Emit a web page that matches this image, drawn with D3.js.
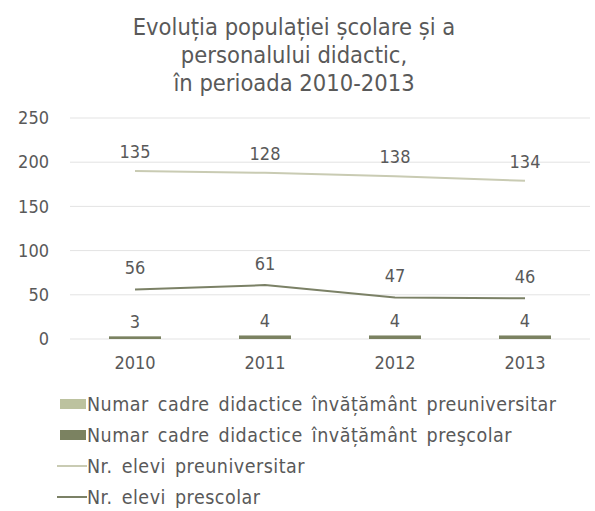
<!DOCTYPE html>
<html>
<head>
<meta charset="utf-8">
<script src="https://cdn.jsdelivr.net/npm/d3@7"></script>
<style>
  body { margin: 0; background: #fff; }
  svg text { font-family: "DejaVu Sans Condensed", "DejaVu Sans", sans-serif; fill: #595959; }
</style>
</head>
<body>
<div id="chart"></div>
<script>
// Date
const ani = ["2010", "2011", "2012", "2013"];
const cadrePrescolar = [3, 4, 4, 4];
const cadrePreuniv = [135, 128, 138, 134];   // etichete afisate deasupra liniei
const eleviPreuniv = [190, 188, 184, 179];
const eleviPrescolar = [56, 61, 47, 46];
const yTicks = [0, 50, 100, 150, 200, 250];

const culori = {
    barLight: "#bcc29f",
    barDark: "#7b8261",
    lineLight: "#c9cbb3",
    lineDark: "#7b8166"
};

const width = 595, height = 511;
const margin = { top: 118, right: 5, bottom: 172, left: 70 };
const fs = 18;

const svg = d3.select("#chart").append("svg")
    .attr("width", width)
    .attr("height", height);

// Titlu
const title = ["Evoluția populației școlare și a", "personalului didactic,", "în perioada 2010-2013"];
svg.append("text")
    .attr("text-anchor", "middle")
    .attr("font-size", 23.5)
    .selectAll("tspan")
    .data(title)
    .join("tspan")
    .attr("x", 294)
    .attr("y", (d, i) => 35 + i * 28)
    .text(d => d);

const x = d3.scaleBand()
    .domain(ani)
    .range([margin.left, width - margin.right]);

const y = d3.scaleLinear()
    .domain([0, 250])
    .range([height - margin.bottom, margin.top]);

// Grila
svg.append("g")
    .selectAll("line")
    .data(yTicks)
    .join("line")
    .attr("x1", margin.left)
    .attr("x2", width - margin.right)
    .attr("y1", d => y(d))
    .attr("y2", d => y(d))
    .attr("stroke", "#e3e3e3")
    .attr("stroke-width", 1);

// Axa Y
const yAxis = svg.append("g")
    .attr("transform", `translate(${margin.left - 21},0)`)
    .call(d3.axisLeft(y).tickValues(yTicks).tickSize(0).tickPadding(0));
yAxis.select(".domain").remove();
yAxis.selectAll("text")
    .attr("font-size", fs)
    .attr("font-family", "DejaVu Sans Condensed, DejaVu Sans, sans-serif")
    .attr("fill", "#595959");

// Axa X
const xAxis = svg.append("g")
    .attr("transform", `translate(0,${y(0)})`)
    .call(d3.axisBottom(x).tickSize(0).tickPadding(17));
xAxis.select(".domain").remove();
xAxis.selectAll("text")
    .attr("font-size", fs)
    .attr("font-family", "DejaVu Sans Condensed, DejaVu Sans, sans-serif")
    .attr("fill", "#595959");

const barW = 52;

// Bare cadre prescolar
svg.append("g")
    .selectAll("rect")
    .data(cadrePrescolar)
    .join("rect")
    .attr("x", (d, i) => x(ani[i]) + x.bandwidth() / 2 - barW / 2)
    .attr("width", barW)
    .attr("y", d => y(d))
    .attr("height", d => y(0) - y(d))
    .attr("fill", culori.barDark);

svg.append("g")
    .selectAll("text")
    .data(cadrePrescolar)
    .join("text")
    .attr("x", (d, i) => x(ani[i]) + x.bandwidth() / 2)
    .attr("y", d => y(d) - 8)
    .attr("text-anchor", "middle")
    .attr("font-size", fs)
    .text(d => d);

// Linii
const cx = (d, i) => x(ani[i]) + x.bandwidth() / 2;
const line = d3.line().x(cx).y(d => y(d));

svg.append("path")
    .datum(eleviPreuniv)
    .attr("d", line)
    .attr("fill", "none")
    .attr("stroke", culori.lineLight)
    .attr("stroke-width", 2);

svg.append("path")
    .datum(eleviPrescolar)
    .attr("d", line)
    .attr("fill", "none")
    .attr("stroke", culori.lineDark)
    .attr("stroke-width", 2);

svg.append("g")
    .selectAll("text")
    .data(cadrePreuniv)
    .join("text")
    .attr("x", cx)
    .attr("y", (d, i) => y(eleviPreuniv[i]) - 13)
    .attr("text-anchor", "middle")
    .attr("font-size", fs)
    .text(d => d);

svg.append("g")
    .selectAll("text")
    .data(eleviPrescolar)
    .join("text")
    .attr("x", cx)
    .attr("y", d => y(d) - 15)
    .attr("text-anchor", "middle")
    .attr("font-size", fs)
    .text(d => d);

// Legenda
const legenda = [
    { label: "Numar cadre didactice învățământ preuniversitar", tip: "bar", color: culori.barLight },
    { label: "Numar cadre didactice învățământ preşcolar", tip: "bar", color: culori.barDark },
    { label: "Nr. elevi preuniversitar", tip: "line", color: culori.lineLight },
    { label: "Nr. elevi prescolar", tip: "line", color: culori.lineDark }
];

const leg = svg.append("g")
    .selectAll("g")
    .data(legenda)
    .join("g")
    .attr("transform", (d, i) => `translate(57,${404 + i * 31})`);

leg.filter(d => d.tip === "bar").append("rect")
    .attr("x", 3).attr("y", -5)
    .attr("width", 26).attr("height", 10)
    .attr("fill", d => d.color);

leg.filter(d => d.tip === "line").append("line")
    .attr("x1", 0).attr("x2", 30)
    .attr("y1", 0).attr("y2", 0)
    .attr("stroke", d => d.color)
    .attr("stroke-width", 2);

leg.append("text")
    .attr("x", 30)
    .attr("dy", "0.35em")
    .attr("font-size", 19.5)
    .attr("letter-spacing", 0.5)
    .attr("word-spacing", 3)
    .text(d => d.label);
</script>
</body>
</html>
